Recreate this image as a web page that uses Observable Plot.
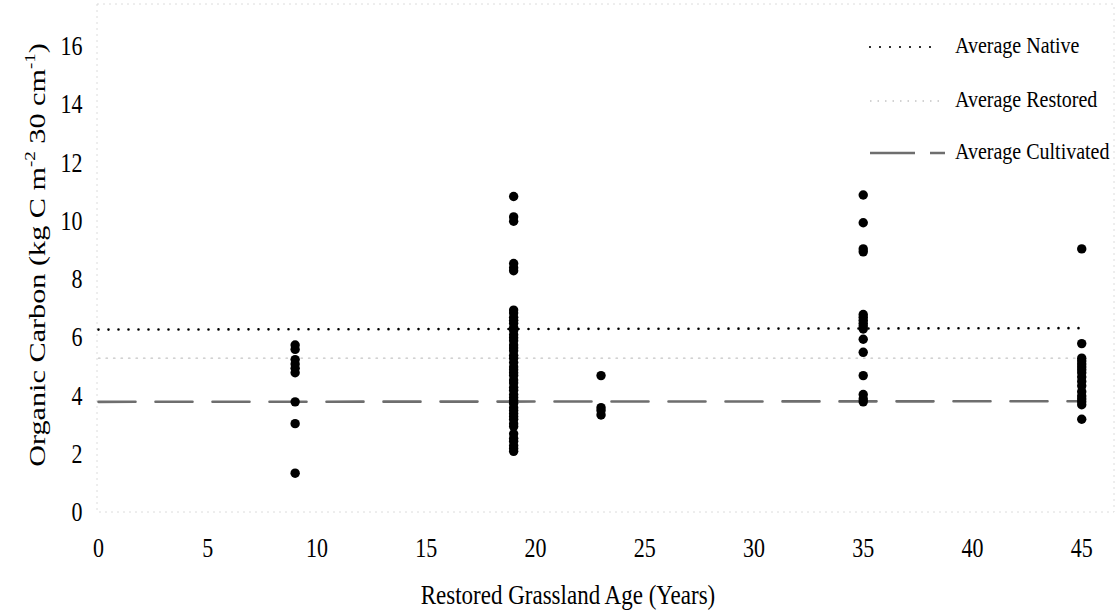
<!DOCTYPE html>
<html>
<head>
<meta charset="utf-8">
<script src="https://cdn.jsdelivr.net/npm/d3@7"></script>
<script src="https://cdn.jsdelivr.net/npm/@observablehq/plot@0.6"></script>
<style>
  html, body { margin: 0; padding: 0; background: #fff; }
  #chart svg { display: block; }
  #chart svg text { font-family: "Liberation Serif", "Times New Roman", serif; }
</style>
</head>
<body>
<div id="chart"></div>
<script>
// ---- data ----
const ages = [9, 19, 23, 35, 45];
const carbon9  = [5.75, 5.6, 5.25, 5.1, 4.95, 4.8, 3.8, 3.05, 1.35];
const carbon19 = [10.85, 10.15, 10.0, 8.55, 8.4, 8.3, 6.95, 6.85, 6.7, 6.6, 6.5, 6.35, 6.25, 6.1, 6.0, 5.9,
                  5.75, 5.65, 5.55, 5.4, 5.3, 5.15, 5.0, 4.9, 4.8, 4.7, 4.55, 4.45, 4.3, 4.2, 4.05, 3.95,
                  3.85, 3.75, 3.6, 3.5, 3.4, 3.3, 3.2, 3.05, 2.95, 2.7, 2.55, 2.45, 2.3, 2.2, 2.1];
const carbon23 = [4.7, 3.6, 3.5, 3.35];
const carbon35 = [10.9, 9.95, 9.05, 8.95, 6.8, 6.7, 6.6, 6.5, 6.4, 6.3, 5.95, 5.5, 4.7, 4.05, 3.9, 3.8];
const carbon45 = [9.05, 5.8, 5.3, 5.2, 5.1, 5.0, 4.9, 4.8, 4.65, 4.5, 4.35, 4.15, 4.0, 3.9, 3.8, 3.7, 3.2];

const avgNative     = [{x: 0, y: 6.28}, {x: 45, y: 6.33}];
const avgRestored   = [{x: 0, y: 5.3},  {x: 45, y: 5.3}];
const avgCultivated = [{x: 0, y: 3.8},  {x: 45, y: 3.82}];

const xTicks = [0, 5, 10, 15, 20, 25, 30, 35, 40, 45];
const yTicks = [0, 2, 4, 6, 8, 10, 12, 14, 16];

const legendLabels = ["Average Native", "Average Restored", "Average Cultivated"];
const xTitle = "Restored Grassland Age (Years)";

// ---- table for the dot mark ----
const groups = [carbon9, carbon19, carbon23, carbon35, carbon45];
const points = ages.flatMap((a, i) => groups[i].map(c => ({age: a, c})));

const W = 1119, H = 615;
const FONT = "Liberation Serif, Times New Roman, serif";

const chart = Plot.plot({
  width: W,
  height: H,
  marginLeft: 98,
  marginRight: 5,
  marginTop: 46,
  marginBottom: 103,
  style: {fontFamily: FONT, fontSize: "22px", color: "#000", background: "#fff", overflow: "visible"},
  x: {domain: [0, 46.5], label: null},
  y: {domain: [0, 16], label: null},
  marks: [
    Plot.axisX({ticks: xTicks, tickSize: 0, tickPadding: 27, label: null, tickFormat: d => String(d)}),
    Plot.axisY({ticks: yTicks, tickSize: 0, tickPadding: 16, label: null, tickFormat: d => String(d)}),
    Plot.line(avgRestored, {x: "x", y: "y", stroke: "#c4c4c4", strokeWidth: 1.3, strokeDasharray: "1.5,6"}),
    Plot.line(avgCultivated, {x: "x", y: "y", stroke: "#6e6e6e", strokeWidth: 2.6, strokeDasharray: "37,20"}),
    Plot.line(avgNative, {x: "x", y: "y", stroke: "#000", strokeWidth: 2.6, strokeDasharray: "0,10", strokeLinecap: "round"}),
    Plot.dot(points, {x: "age", y: "c", r: 4.7, fill: "#000", stroke: null})
  ]
});

document.getElementById("chart").appendChild(chart);

const svg = d3.select(chart);

// stretch tick labels vertically (scanned original is taller), around each label's own centre
svg.selectAll('g[aria-label="x-axis tick label"] text, g[aria-label="y-axis tick label"] text').each(function() {
  const b = this.getBBox();
  const cx = b.x + b.width / 2, cy = b.y + b.height / 2;
  const tl = this.transform && this.transform.baseVal;
  const c = tl && tl.numberOfItems ? tl.consolidate() : null;
  const M = c ? c.matrix : {a: 1, b: 0, c: 0, d: 1, e: 0, f: 0};
  const px = M.a * cx + M.c * cy + M.e;
  const py = M.b * cx + M.d * cy + M.f;
  const g = document.createElementNS("http://www.w3.org/2000/svg", "g");
  g.setAttribute("transform", `translate(${px},${py}) scale(1,1.2) translate(${-px},${-py})`);
  this.parentNode.insertBefore(g, this);
  g.appendChild(this);
});

// faint plot-area border
svg.insert("rect", ":first-child")
  .attr("x", 97).attr("y", 4).attr("width", 1017).attr("height", 508)
  .attr("fill", "none").attr("stroke", "#dcdcdc").attr("stroke-width", 1)
  .attr("stroke-dasharray", "2,4");

// x title
svg.append("text")
  .attr("transform", "translate(568,598) scale(1,1.2)")
  .attr("text-anchor", "middle").attr("dominant-baseline", "middle")
  .attr("font-size", 23).attr("fill", "#000")
  .text(xTitle);

// y title with superscripts
const yt = svg.append("text")
  .attr("transform", "translate(40,255) rotate(-90) scale(1.26,1)")
  .attr("text-anchor", "middle").attr("dominant-baseline", "middle")
  .attr("font-size", 24).attr("fill", "#000");
yt.append("tspan").text("Organic Carbon (kg C m");
yt.append("tspan").attr("font-size", 15).attr("dy", -9).text("-2");
yt.append("tspan").attr("dy", 9).text(" 30 cm");
yt.append("tspan").attr("font-size", 15).attr("dy", -9).text("-1");
yt.append("tspan").attr("dy", 9).text(")");

// legend
const lg = svg.append("g").attr("font-size", 20).attr("text-anchor", "start");
const ly = [47, 101, 153];
const lx0 = 870, lx1 = 945, tx = 955;
lg.append("line").attr("x1", lx0).attr("x2", 938).attr("y1", ly[0]).attr("y2", ly[0])
  .attr("stroke", "#000").attr("stroke-width", 2.2).attr("stroke-dasharray", "0,10").attr("stroke-linecap", "round");
lg.append("line").attr("x1", lx0).attr("x2", lx1).attr("y1", ly[1]).attr("y2", ly[1])
  .attr("stroke", "#c4c4c4").attr("stroke-width", 1.3).attr("stroke-dasharray", "1.5,6");
lg.append("line").attr("x1", lx0).attr("x2", lx1).attr("y1", ly[2]).attr("y2", ly[2])
  .attr("stroke", "#6e6e6e").attr("stroke-width", 2.6).attr("stroke-dasharray", "45,15");
legendLabels.forEach((t, i) => {
  lg.append("text")
    .attr("transform", `translate(${tx},${ly[i]}) scale(1,1.2)`)
    .attr("text-anchor", "start").attr("dominant-baseline", "middle")
    .attr("fill", "#000").text(t);
});
</script>
</body>
</html>
